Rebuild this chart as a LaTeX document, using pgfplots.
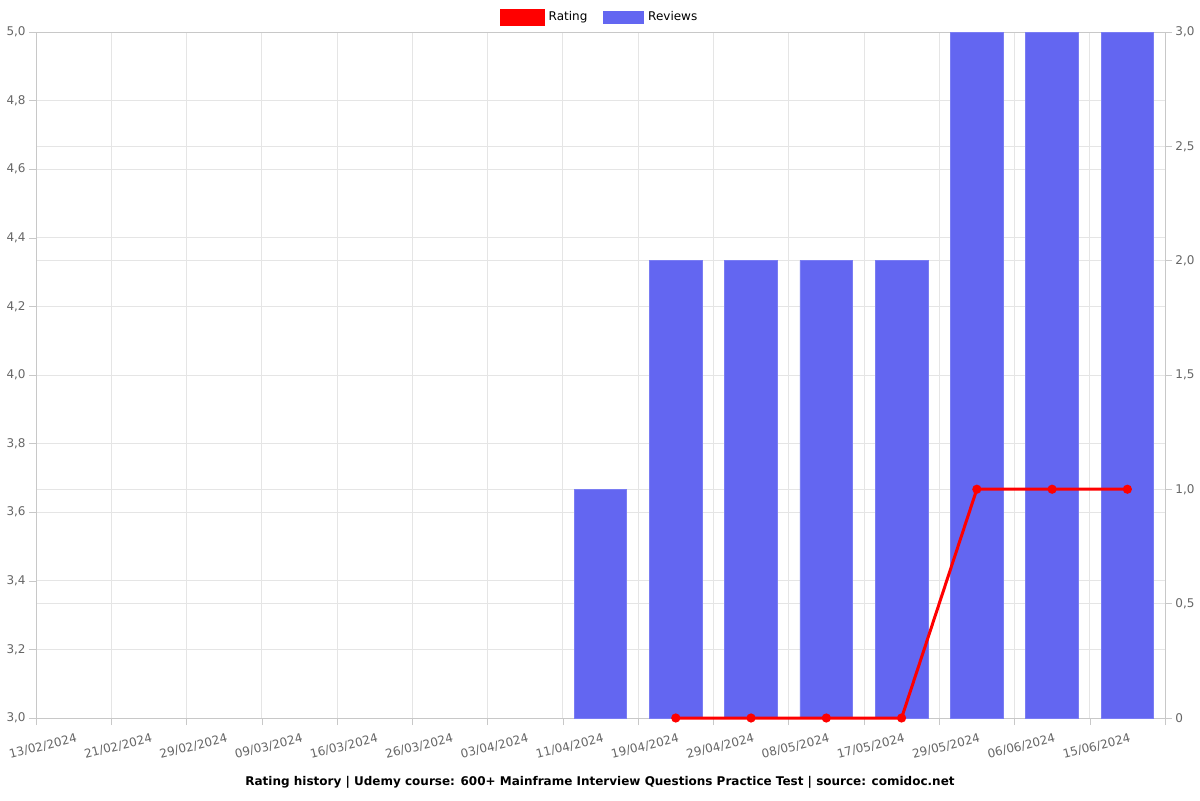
\documentclass[border=0pt]{standalone}
\usepackage{pgfplots}
\pgfplotsset{compat=1.18}
\usepackage{fontspec}
\setmainfont{DejaVu Sans}
\definecolor{barblue}{RGB}{99,102,241}
\definecolor{ticktext}{RGB}{102,102,102}
\definecolor{gridc}{RGB}{229,229,229}
\definecolor{axisc}{RGB}{200,200,200}
\begin{document}
\begin{tikzpicture}
\path[use as bounding box] (0,0) rectangle (600pt,400pt);
\pgfplotsset{common/.style={
  width=564.5pt,height=343pt,scale only axis,
  at={(18pt,41pt)},anchor=south west,
  xmin=-0.5,xmax=14.5,
  font=\fontsize{6pt}{7pt}\selectfont,
  tick label style={font=\fontsize{6pt}{7pt}\selectfont,text=ticktext},
  tick align=outside,
  axis line style={axisc},
  tick style={axisc},
}}
\begin{axis}[common,
  ymin=0,ymax=3,
  ytick={0,0.5,1,1.5,2,2.5,3},
  yticklabels={0,{0,5},{1,0},{1,5},{2,0},{2,5},{3,0}},
  ytick pos=right, yticklabel pos=right,
  major tick length=3.5pt, minor tick length=3.5pt,
  ymajorgrids, grid style={gridc},
  extra y ticks={0.3,0.6,0.9,1.2,1.8,2.1,2.4,2.7},
  extra y tick labels={},
  extra y tick style={grid=major, tick style={draw=none}},
  xtick={0,...,14},
  xticklabels={13/02/2024,21/02/2024,29/02/2024,09/03/2024,16/03/2024,26/03/2024,03/04/2024,11/04/2024,19/04/2024,29/04/2024,08/05/2024,17/05/2024,29/05/2024,06/06/2024,15/06/2024},
  xtick pos=bottom,
  major x tick style={draw=none},
  minor xtick={-0.5,0.5,...,14.5},
  xminorgrids, minor grid style={gridc},
  xticklabel style={rotate=14,anchor=north east,inner sep=1pt,yshift=-3pt,xshift=1pt},
  yticklabel style={inner sep=1.5pt},
]
\addplot[ybar,bar width=0.7,fill=barblue,draw=barblue!85!white] coordinates {
  (7,1) (8,2) (9,2) (10,2) (11,2) (12,3) (13,3) (14,3)
};
\end{axis}
\begin{axis}[common,
  ymin=3,ymax=5,
  axis x line=none, axis y line*=left,
  ytick={3,3.2,3.4,3.6,3.8,4,4.2,4.4,4.6,4.8,5},
  yticklabels={{3,0},{3,2},{3,4},{3,6},{3,8},{4,0},{4,2},{4,4},{4,6},{4,8},{5,0}},
  major tick length=3.5pt,
  yticklabel style={inner sep=1.5pt},
  clip=false,
  legend style={at={(0.5,1)},anchor=center,yshift=7.5pt,draw=none,fill=none,
    legend columns=2,font=\fontsize{6pt}{7pt}\selectfont,
    /tikz/every even column/.append style={column sep=6pt},
    legend cell align=left},
]
\addplot[red,line width=1.5pt,mark=*,mark size=1.5pt,
  legend image code/.code={\fill[red] (0pt,-3.5pt) rectangle (21pt,3.5pt);}]
  coordinates {(8,3) (9,3) (10,3) (11,3) (12,3.667) (13,3.667) (14,3.667)};
\addlegendentry{Rating}
\addlegendimage{legend image code/.code={\fill[barblue] (0pt,-3pt) rectangle (20pt,3pt);}}
\addlegendentry{Reviews}
\end{axis}
\node[font=\bfseries\fontsize{6pt}{7pt}\selectfont] at (300pt,9pt) {Rating history | Udemy course: 600+ Mainframe Interview Questions Practice Test | source: comidoc.net};
\end{tikzpicture}
\end{document}
